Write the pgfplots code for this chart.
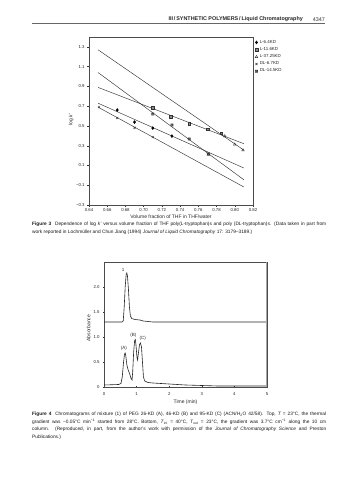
\documentclass[border=0pt]{standalone}
\usepackage{fontspec}
\setmainfont{Liberation Sans}
\usepackage{pgfplots}
\pgfplotsset{compat=1.18}
\pgfdeclareplotmark{boxx}{%
  \pgfpathrectangle{\pgfqpoint{-\pgfplotmarksize}{-\pgfplotmarksize}}{\pgfqpoint{2\pgfplotmarksize}{2\pgfplotmarksize}}%
  \pgfpathmoveto{\pgfqpoint{-\pgfplotmarksize}{-\pgfplotmarksize}}\pgfpathlineto{\pgfqpoint{\pgfplotmarksize}{\pgfplotmarksize}}%
  \pgfpathmoveto{\pgfqpoint{-\pgfplotmarksize}{\pgfplotmarksize}}\pgfpathlineto{\pgfqpoint{\pgfplotmarksize}{-\pgfplotmarksize}}%
  \pgfusepathqstroke}
\begin{document}
\begin{tikzpicture}
\path[use as bounding box] (0pt,0pt) rectangle (356pt,480pt);
\fill[white] (0pt,0pt) rectangle (356pt,480pt);
% running head
\node[anchor=east, font=\fontsize{5.4}{6}\selectfont\bfseries, text=black!85, inner sep=0] at (303pt,460.5pt) {III\,/\,SYNTHETIC POLYMERS\,/\,Liquid Chromatography};
\node[anchor=east, font=\fontsize{5.4}{6}\selectfont, text=black!80, inner sep=0] at (325pt,460.5pt) {4347};
\draw[black!60, line width=1pt] (32pt,456pt) -- (325pt,456pt);

% ---------- Figure 3 ----------
\begin{axis}[at={(89pt,275pt)}, anchor=south west, width=164pt, height=168pt, scale only axis,
  xmin=0.64, xmax=0.82, ymin=-0.3, ymax=1.4,
  xtick={0.64,0.66,0.68,0.70,0.72,0.74,0.76,0.78,0.80,0.82},
  xticklabels={0.64,0.66,0.68,0.70,0.72,0.74,0.76,0.78,0.80,0.82},
  ytick={-0.3,-0.1,0.1,0.3,0.5,0.7,0.9,1.1,1.3},
  yticklabels={−0.3,−0.1,0.1,0.3,0.5,0.7,0.9,1.1,1.3},
  tick pos=left, tick align=outside, major tick length=1.8pt,
  tick style={black!80, line width=0.4pt},
  axis line style={black!70, line width=0.5pt},
  ticklabel style={font=\fontsize{4.3}{5}\selectfont, text=black!85},
  xticklabel style={anchor=north, inner sep=1.2pt},
  yticklabel style={anchor=east, inner sep=0pt, xshift=-2.5pt},
  xlabel={Volume fraction of THF in THF/water},
  ylabel={log \textit{k}'},
  every axis x label/.style={at={([yshift=-11.5pt]rel axis cs:0.5,0)}, anchor=center},
  every axis y label/.style={at={([xshift=-18pt]rel axis cs:0,0.51)}, anchor=center, rotate=90},
  label style={font=\fontsize{5}{6}\selectfont, text=black!85},
  legend style={at={(1,1)}, anchor=north west, xshift=2pt, yshift=-1pt, draw=none, fill=none,
    font=\fontsize{4.4}{5}\selectfont, row sep=-1.4pt, inner sep=0pt, text=black!85},
  legend cell align=left,
  mark size=1.5pt,
]
% regression lines
\addplot[black!80, line width=0.45pt, forget plot] coordinates {(0.65,0.73) (0.81,0.074)};
\addplot[black!80, line width=0.45pt, forget plot] coordinates {(0.65,0.89) (0.81,0.32)};
\addplot[black!80, line width=0.45pt, forget plot] coordinates {(0.65,1.27) (0.81,0.255)};
\addplot[black!80, line width=0.45pt, forget plot] coordinates {(0.65,0.69) (0.81,-0.118)};
\addplot[black!80, line width=0.45pt, forget plot] coordinates {(0.65,1.04) (0.81,-0.045)};
% data points
\addplot[only marks, mark=diamond*, mark options={fill=black, draw=black}] coordinates {(0.671,0.661) (0.690,0.539) (0.710,0.478) (0.731,0.397)};
\addlegendentry{L-6.4KD}
\addplot[only marks, mark=square*, mark size=1.3pt, mark options={fill=black!45, draw=black!80}] coordinates {(0.710,0.686) (0.730,0.593) (0.750,0.522) (0.770,0.465) (0.785,0.425)};
\addlegendentry{L-11.6KD}
\addplot[only marks, mark=triangle, mark options={draw=black!80}] coordinates {(0.789,0.397) (0.800,0.313) (0.809,0.255)};
\addlegendentry{L-37.25KD}
\addplot[only marks, mark=x, mark options={draw=black!80}] coordinates {(0.651,0.69) (0.671,0.58) (0.690,0.48) (0.710,0.387)};
\addlegendentry{DL-6.7KD}
\addplot[only marks, mark=boxx, mark size=1.2pt, mark options={draw=black!80}] coordinates {(0.710,0.62) (0.731,0.509) (0.750,0.367) (0.771,0.215)};
\addlegendentry{DL-14.5KD}
\end{axis}

\node[anchor=north west, inner sep=0, text width=294pt, align=justify, font=\fontsize{4.8}{7.6}\selectfont, text=black!90] at (32pt,258pt)
{\textbf{Figure 3}\hspace{0.8em}Dependence of log \textit{k}' versus volume fraction of THF poly(L-tryptophan)s and poly (DL-tryptophan)s. (Data taken in part from\linebreak work reported in Lochm\"uller and Chun Jiang (1994) \textit{Journal of Liquid Chromatography} 17: 3179--3189.)};

% ---------- Figure 4 ----------
\begin{axis}[at={(104pt,93pt)}, anchor=south west, width=163pt, height=125pt, scale only axis,
  xmin=0, xmax=5, ymin=0, ymax=2.5,
  xtick={0,1,2,3,4,5}, xticklabels={0,1,2,3,4,5},
  ytick={0,0.5,1,1.5,2}, yticklabels={0,0.5,1.0,1.5,2.0},
  tick pos=left, tick align=center, major tick length=2.4pt,
  tick style={black!80, line width=0.4pt},
  axis line style={black!70, line width=0.5pt},
  ticklabel style={font=\fontsize{4.3}{5}\selectfont, text=black!85},
  xticklabel style={anchor=north, inner sep=0pt, yshift=-4.5pt},
  yticklabel style={anchor=east, inner sep=0pt, xshift=-3pt},
  xlabel={Time (min)},
  ylabel={Absorbance},
  every axis x label/.style={at={([yshift=-15.5pt]rel axis cs:0.5,0)}, anchor=center},
  every axis y label/.style={at={([xshift=-15.5pt]rel axis cs:0,0.47)}, anchor=center, rotate=90},
  label style={font=\fontsize{5}{6}\selectfont, text=black!85},
]
\addplot[black!85, line width=0.6pt] coordinates {
(0,1.30) (0.55,1.30) (0.59,1.32) (0.62,1.60) (0.65,2.00) (0.68,2.25) (0.70,2.28) (0.72,2.22)
(0.75,1.95) (0.78,1.60) (0.81,1.42) (0.85,1.37) (0.95,1.35) (1.1,1.34) (1.2,1.32) (1.35,1.31)
(1.5,1.30) (3,1.30) (5,1.30)};
\addplot[black!85, line width=0.6pt] coordinates {
(0,0.04) (0.45,0.05) (0.52,0.07) (0.56,0.20) (0.60,0.50) (0.63,0.66) (0.65,0.68) (0.67,0.62)
(0.70,0.45) (0.74,0.34) (0.78,0.28) (0.83,0.17) (0.86,0.14) (0.88,0.30) (0.91,0.70) (0.94,0.93)
(0.96,0.95) (0.98,0.85) (1.01,0.60) (1.03,0.54) (1.06,0.70) (1.09,0.85) (1.12,0.88) (1.15,0.80)
(1.18,0.50) (1.21,0.20) (1.25,0.12) (1.35,0.09) (1.5,0.08) (2,0.06) (2.5,0.04) (3,0.03)
(3.5,0.02) (4,0.02) (5,0.02)};
\node[font=\fontsize{4.5}{5}\selectfont, text=black!85] at (axis cs:0.59,2.35) {1};
\node[font=\fontsize{4.5}{5}\selectfont, text=black!85] at (axis cs:0.61,0.78) {(A)};
\node[font=\fontsize{4.5}{5}\selectfont, text=black!85] at (axis cs:0.90,1.04) {(B)};
\node[font=\fontsize{4.5}{5}\selectfont, text=black!85] at (axis cs:1.19,0.97) {(C)};
\draw[black!35, line width=1.2pt] (rel axis cs:1,0) -- (rel axis cs:1,1);
\end{axis}

\node[anchor=north west, inner sep=0, text width=294pt, align=justify, font=\fontsize{4.8}{7.6}\selectfont, text=black!90] at (32pt,68pt)
{\textbf{Figure 4}\hspace{0.8em}Chromatograms of mixture (1) of PEG 26-KD (A), 46-KD (B) and 95-KD (C) (ACN/H\textsubscript{2}O 42/58). Top, \textit{T} = 23\textdegree C, the thermal\linebreak
gradient was −0.05\textdegree C min\textsuperscript{−1} started from 28\textdegree C. Bottom, \textit{T}\textsubscript{inl} = 40\textdegree C, \textit{T}\textsubscript{out} = 23\textdegree C, the gradient was 3.7\textdegree C cm\textsuperscript{−1} along the 10 cm\linebreak
column. (Reproduced, in part, from the author's work with permission of the \textit{Journal of Chromatography Science} and Preston\linebreak
Publications.)};
\end{tikzpicture}
\end{document}
